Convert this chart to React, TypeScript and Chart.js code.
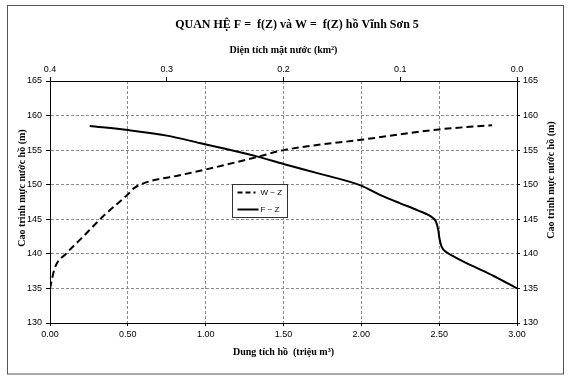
import React, { useEffect, useRef } from "react";
import { Chart, registerables } from "chart.js";

Chart.register(...registerables);

const TITLE = "QUAN HỆ F =  f(Z) và W =  f(Z) hồ Vĩnh Sơn 5";
const X_TITLE = "Dung tích hồ  (triệu m³)";
const X2_TITLE = "Diện tích mặt nước (km²)";
const Y_TITLE = "Cao trình mực nước hồ (m)";
const W_LABEL = "W ~ Z";
const F_LABEL = "F ~ Z";

// W ~ Z : volume (million m3) vs water level (m)
const W_VALUES = [0, 0.03, 0.107, 0.2, 0.34, 0.5, 0.54, 0.6, 0.84, 1.0, 1.33, 1.5, 2.0, 2.5, 2.84];
const W_LEVELS = [135, 137.9, 140.1, 142.2, 145.4, 148.6, 149.5, 150.2, 151.4, 152.2, 154.0, 155.0, 156.5, 158.0, 158.6];

// F ~ Z : surface area (km2) vs water level (m)
const F_VALUES = [0.366, 0.333, 0.3, 0.271, 0.25, 0.223, 0.2, 0.167, 0.134, 0.117, 0.1, 0.085, 0.072, 0.0695, 0.0675, 0.0665, 0.0645, 0.06, 0.054, 0.04, 0.02, 0];
const F_LEVELS = [158.5, 157.9, 157.1, 156.0, 155.2, 154.1, 153.0, 151.5, 149.9, 148.5, 147.3, 146.3, 145.2, 144.7, 143.5, 142.3, 141.0, 140.2, 139.6, 138.4, 136.8, 135];

const X_MIN = 0, X_MAX = 3, X_STEP = 0.5;
const X2_MIN = 0, X2_MAX = 0.4, X2_STEP = 0.1;
const Y_MIN = 130, Y_MAX = 165, Y_STEP = 5;

const SERIF = "'Liberation Serif', 'Times New Roman', serif";
const SANS = "'Liberation Sans', Arial, sans-serif";
const GRID = "#8c8c8c";

const decor = {
  id: "decor",
  beforeDraw(chart: any) {
    const { ctx, width, height } = chart;
    ctx.save();
    ctx.fillStyle = "#fff";
    ctx.fillRect(0, 0, width, height);
    ctx.restore();
  },
  afterDraw(chart: any) {
    const { ctx, chartArea: ca } = chart;
    ctx.save();
    // outer frame
    ctx.strokeStyle = "#555";
    ctx.lineWidth = 1;
    ctx.strokeRect(7.5, 5.5, 556, 368.5);
    // main title
    ctx.fillStyle = "#000";
    ctx.font = `bold 12px ${SERIF}`;
    ctx.textAlign = "center";
    ctx.textBaseline = "middle";
    ctx.fillText(TITLE, 297, 25);
    // side titles (both read bottom-to-top)
    ctx.font = `bold 10px ${SERIF}`;
    ctx.save();
    ctx.translate(22, 188);
    ctx.rotate(-Math.PI / 2);
    ctx.fillText(Y_TITLE, 0, 0);
    ctx.restore();
    ctx.save();
    ctx.translate(551, 180);
    ctx.rotate(-Math.PI / 2);
    ctx.fillText(Y_TITLE, 0, 0);
    ctx.restore();
    // legend
    const lx = Math.round(ca.left + 182) + 0.5;
    const ly = Math.round(ca.top + 103) + 0.5;
    const lw = 55, lh = 33;
    ctx.fillStyle = "#fff";
    ctx.fillRect(lx, ly, lw, lh);
    ctx.strokeStyle = "#333";
    ctx.lineWidth = 1;
    ctx.strokeRect(lx, ly, lw, lh);
    ctx.strokeStyle = "#000";
    ctx.lineWidth = 2;
    ctx.setLineDash([5, 3]);
    ctx.beginPath();
    ctx.moveTo(lx + 5, ly + 8);
    ctx.lineTo(lx + 23, ly + 8);
    ctx.stroke();
    ctx.setLineDash([]);
    ctx.beginPath();
    ctx.moveTo(lx + 5, ly + 25);
    ctx.lineTo(lx + 26, ly + 25);
    ctx.stroke();
    ctx.fillStyle = "#000";
    ctx.font = `8px ${SANS}`;
    ctx.textAlign = "left";
    ctx.fillText(W_LABEL, lx + 28, ly + 8);
    ctx.fillText(F_LABEL, lx + 28, ly + 25);
    ctx.restore();
  },
};

const gridColorEdges = (min: number, max: number) => (c: any) =>
  c.tick && (Math.abs(c.tick.value - min) < 1e-9 || Math.abs(c.tick.value - max) < 1e-9) ? "rgba(0,0,0,0)" : GRID;

export default function App() {
  const ref = useRef<HTMLCanvasElement | null>(null);

  useEffect(() => {
    if (!ref.current) return;
    const wData = W_VALUES.map((x, i) => ({ x, y: W_LEVELS[i] }));
    const fData = F_VALUES.map((x, i) => ({ x, y: F_LEVELS[i] }));
    const tickFont = { family: SANS, size: 9 };

    const chart = new Chart(ref.current, {
      type: "scatter",
      data: {
        datasets: [
          {
            label: W_LABEL,
            data: wData,
            xAxisID: "x",
            yAxisID: "y",
            showLine: true,
            borderColor: "#000",
            borderWidth: 2,
            borderDash: [7, 4],
            pointRadius: 0,
            cubicInterpolationMode: "monotone",
          },
          {
            label: F_LABEL,
            data: fData,
            xAxisID: "x2",
            yAxisID: "y",
            showLine: true,
            borderColor: "#000",
            borderWidth: 2,
            pointRadius: 0,
            cubicInterpolationMode: "monotone",
          },
        ],
      },
      options: {
        responsive: false,
        animation: false,
        layout: { padding: 0 },
        plugins: {
          legend: { display: false },
          title: { display: false },
          tooltip: { enabled: false },
        },
        scales: {
          x: {
            type: "linear",
            position: "bottom",
            min: X_MIN,
            max: X_MAX,
            afterFit: (s: any) => { s.height = 56; },
            ticks: {
              stepSize: X_STEP,
              color: "#000",
              font: tickFont,
              padding: 3,
              maxRotation: 0,
              callback: (v: any) => Number(v).toFixed(2),
            },
            grid: { color: gridColorEdges(X_MIN, X_MAX), tickColor: "#000", tickLength: 3, lineWidth: 1 },
            border: { color: "#000", width: 1, dash: [3, 2] },
            title: {
              display: true,
              text: X_TITLE,
              color: "#000",
              font: { family: SERIF, size: 10, weight: "bold" },
              padding: { top: 0, bottom: 21 },
            },
          },
          x2: {
            type: "linear",
            position: "top",
            reverse: true,
            min: X2_MIN,
            max: X2_MAX,
            afterFit: (s: any) => { s.height = 81; },
            ticks: {
              stepSize: X2_STEP,
              color: "#000",
              font: tickFont,
              padding: 2,
              maxRotation: 0,
              callback: (v: any) => Number(v).toFixed(1),
            },
            grid: { drawOnChartArea: false, color: "#000", tickLength: 4 },
            border: { color: "#000", width: 1 },
            title: {
              display: true,
              text: X2_TITLE,
              color: "#000",
              font: { family: SERIF, size: 10, weight: "bold" },
              padding: { top: 44, bottom: 0 },
            },
          },
          y: {
            type: "linear",
            position: "left",
            min: Y_MIN,
            max: Y_MAX,
            afterFit: (s: any) => { s.width = 50; },
            ticks: { stepSize: Y_STEP, color: "#000", font: tickFont, padding: 4 },
            grid: { color: gridColorEdges(Y_MIN, Y_MAX), tickColor: "#000", tickLength: 4 },
            border: { color: "#000", width: 1, dash: [3, 2] },
          },
          y2: {
            type: "linear",
            position: "right",
            min: Y_MIN,
            max: Y_MAX,
            afterFit: (s: any) => { s.width = 59; },
            ticks: { stepSize: Y_STEP, color: "#000", font: tickFont, padding: 3 },
            grid: { drawOnChartArea: false, color: "#000", tickLength: 3 },
            border: { color: "#000", width: 1 },
          },
        },
      },
      plugins: [decor],
    } as any);

    return () => chart.destroy();
  }, []);

  return (
    <div style={{ position: "fixed", left: 0, top: 0, width: 576, height: 379, background: "#fff" }}>
      <canvas ref={ref} width={576} height={379} style={{ width: 576, height: 379, display: "block" }} />
    </div>
  );
}
